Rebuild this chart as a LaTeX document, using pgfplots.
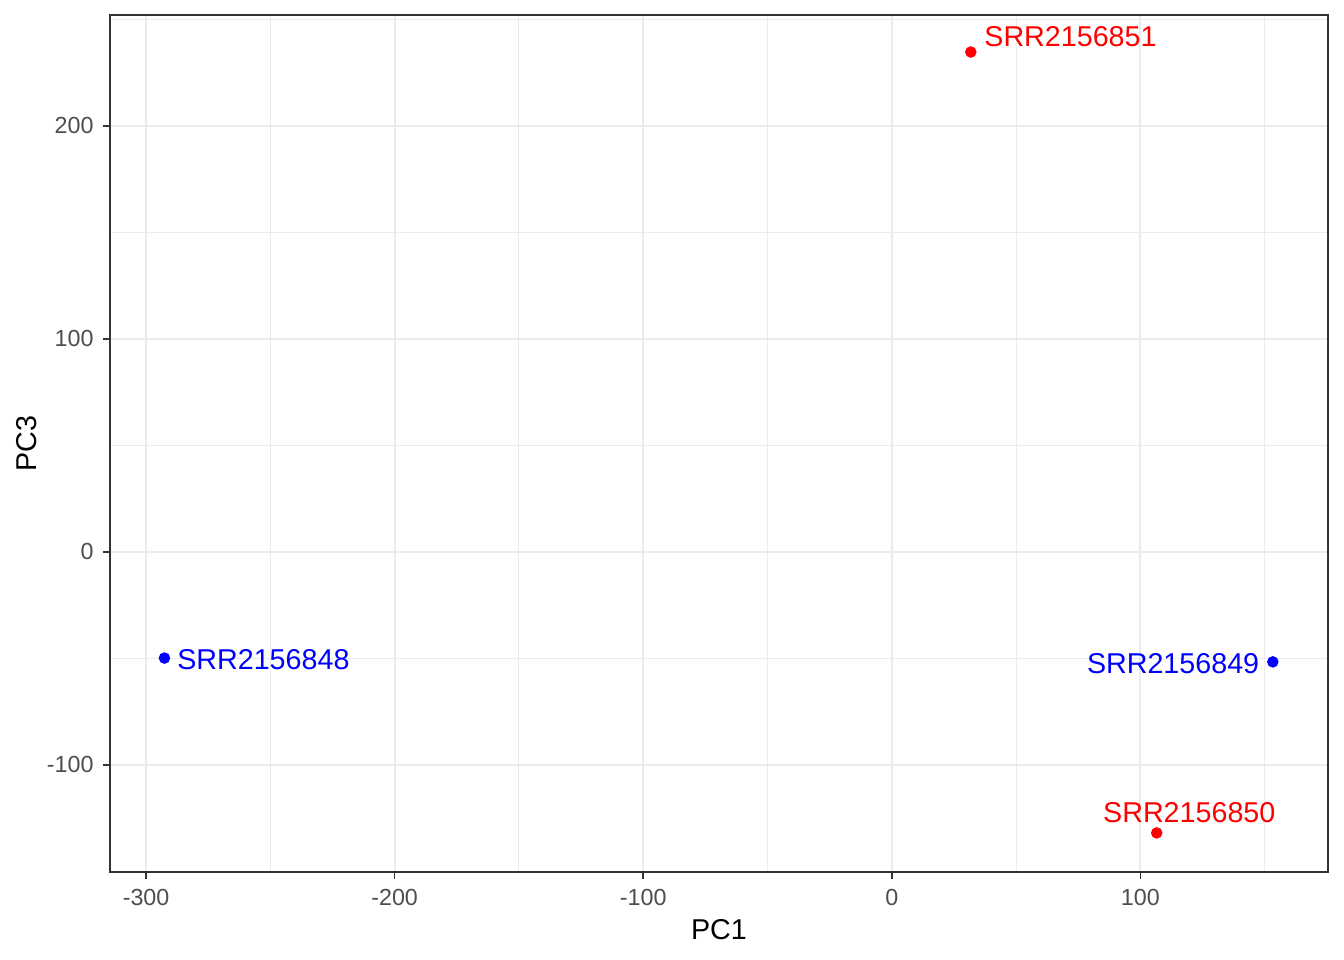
\documentclass[border=0pt]{standalone}
\usepackage{fontspec}
\setmainfont{Liberation Sans}
\usepackage{pgfplots}
\pgfplotsset{compat=1.18}
\definecolor{gridgray}{HTML}{EBEBEB}
\definecolor{tickgray}{HTML}{4D4D4D}
\definecolor{bordergray}{HTML}{333333}

\begin{document}
\begin{tikzpicture}
\begin{axis}[
    scale only axis,
    width=12.688cm, height=8.927cm,
    xmin=-314.5, xmax=175.5,
    ymin=-150.2, ymax=252.1,
    xtick={-300,-200,-100,0,100},
    ytick={-100,0,100,200},
    minor xtick={-250,-150,-50,50,150},
    minor ytick={-150,-50,50,150,250},
    grid=both,
    major grid style={gridgray, line width=0.6pt},
    minor grid style={gridgray, line width=0.3pt},
    axis line style={bordergray, line width=0.45pt},
    tick align=outside,
    major tick length=0.07cm,
    minor tick length=0pt,
    every tick/.style={bordergray, line width=0.45pt},
    xtick pos=bottom, ytick pos=left,
    /pgf/number format/assume math mode=true,
    tick label style={font=\fontsize{6.9}{8}\selectfont, color=tickgray},
    xticklabel style={anchor=north, inner sep=0pt, yshift=-0.104cm},
    yticklabel style={anchor=east, inner sep=0pt, xshift=-0.094cm},
    xlabel={PC1}, ylabel={PC3},
    label style={font=\fontsize{8.5}{10}\selectfont},
    xlabel style={at={(axis description cs:0.5,0)}, anchor=center, yshift=-0.604cm},
    ylabel style={at={(axis description cs:0,0.5)}, anchor=center, yshift=0.865cm},
]
\addplot[only marks, mark=*, mark size=1.5pt, color=red] coordinates {(31.8,234.7) (106.6,-131.9)};
\addplot[only marks, mark=*, mark size=1.5pt, color=blue] coordinates {(-292.6,-49.8) (153.3,-51.6)};
\node[anchor=west, inner sep=0pt, text=red, font=\fontsize{8.5}{10}\selectfont] at (axis cs:37.0,241.8) {SRR2156851};
\node[anchor=center, inner sep=0pt, text=red, font=\fontsize{8.5}{10}\selectfont] at (axis cs:119.7,-122.5) {SRR2156850};
\node[anchor=west, inner sep=0pt, text=blue, font=\fontsize{8.5}{10}\selectfont] at (axis cs:-287.7,-50.7) {SRR2156848};
\node[anchor=east, inner sep=0pt, text=blue, font=\fontsize{8.5}{10}\selectfont] at (axis cs:148.1,-52.6) {SRR2156849};
\end{axis}
\path ([xshift=-1.146cm, yshift=-0.917cm]current axis.south west) rectangle ([xshift=0.167cm, yshift=0.156cm]current axis.north east);
\end{tikzpicture}
\end{document}
